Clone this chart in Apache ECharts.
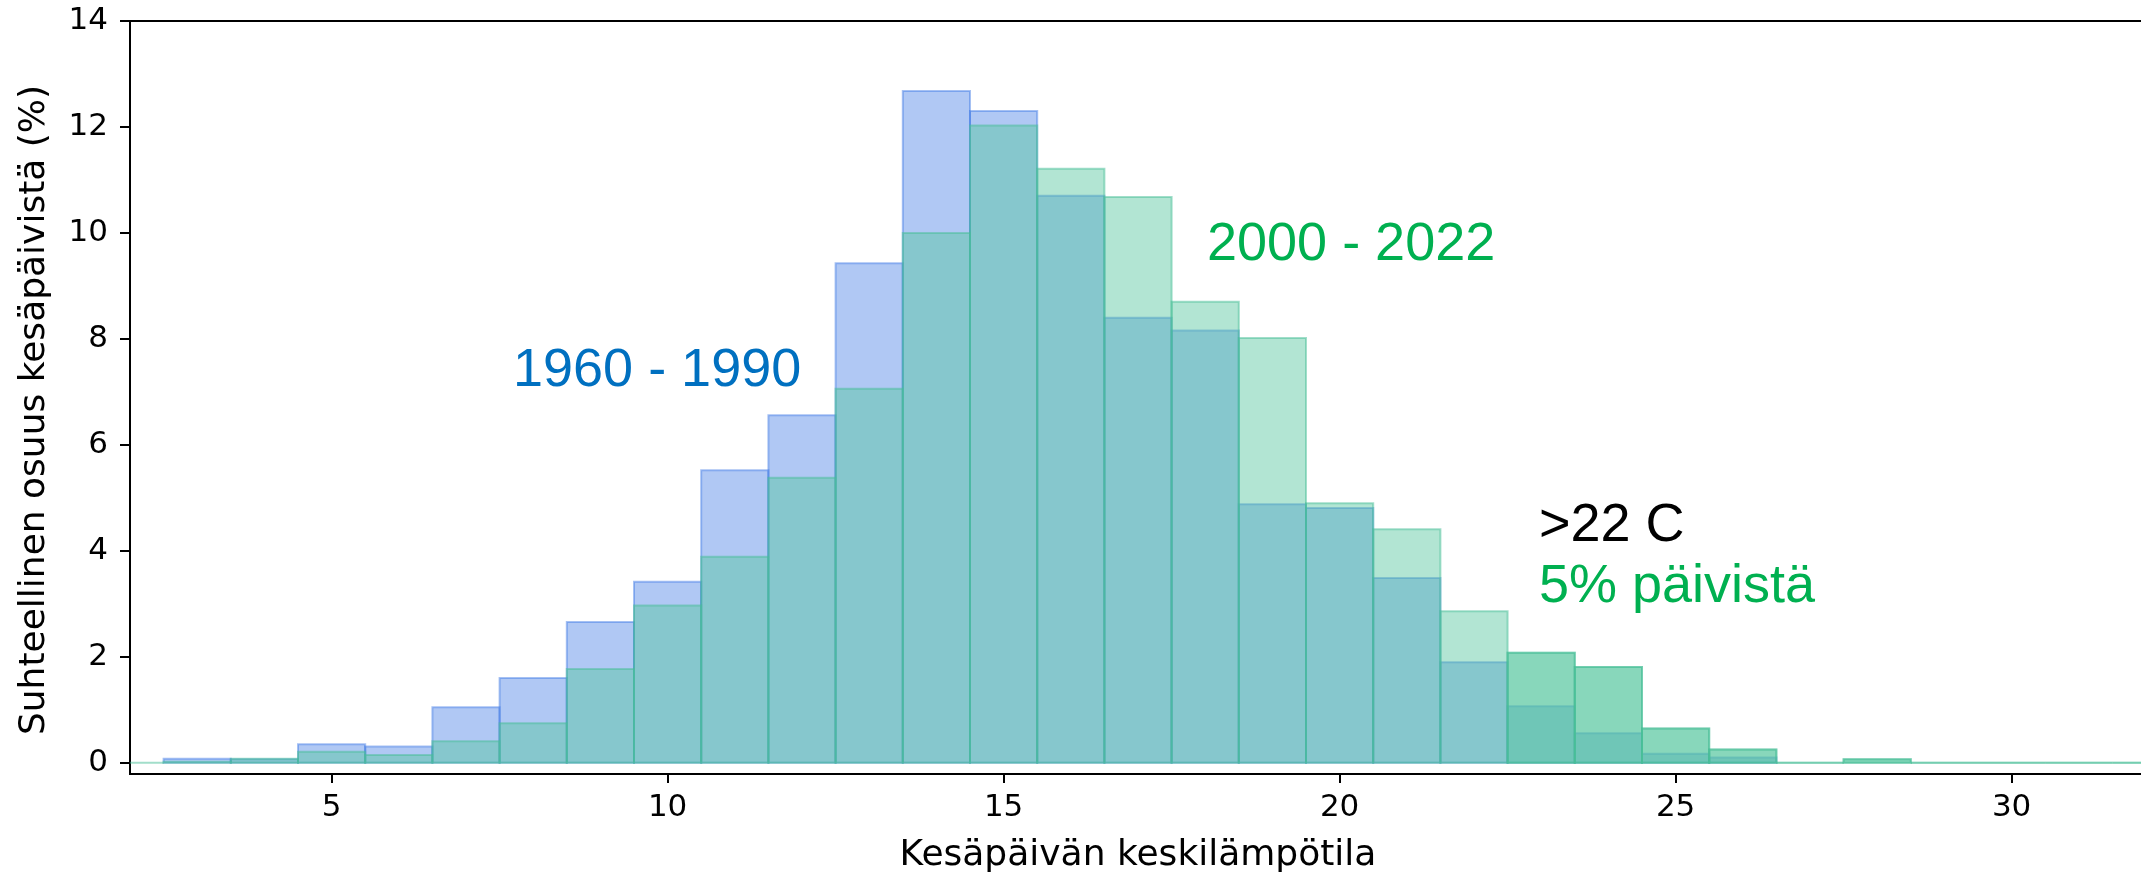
<!DOCTYPE html>
<html><head><meta charset="utf-8">
<script src="https://cdn.jsdelivr.net/npm/echarts@6/dist/echarts.min.js"></script>
<style>html,body{margin:0;padding:0;background:#fff}#c{width:2141px;height:872px}</style>
</head><body><div id="c"></div>
<script>
// Histogram bins: centre of each 1-degree bin (bin = centre-0.5 .. centre+0.5)
const binCenters = [2,3,4,5,6,7,8,9,10,11,12,13,14,15,16,17,18,19,20,21,22,23,24,25,26,27,28,29,30,31,32];
// Share of summer days (%) 1960 - 1990
const share1960_1990 = [null,0.08,0.07,0.35,0.31,1.05,1.60,2.66,3.42,5.52,6.56,9.43,12.68,12.30,10.70,8.40,8.16,4.88,4.81,3.49,1.90,1.07,0.56,0.17,0.10,null,null,null,null,null,null];
// Share of summer days (%) 2000 - 2022
const share2000_2022 = [0,0.02,0.08,0.21,0.15,0.41,0.75,1.77,2.97,3.89,5.38,7.06,10.00,12.03,11.21,10.68,8.70,8.02,4.90,4.41,2.86,2.08,1.81,0.65,0.25,0,0.07,0,0,0,0];
// bins above 22 C highlighted
const highlightFrom = 23;
const xTicks = [5,10,15,20,25,30];
const yTicks = [0,2,4,6,8,10,12,14];
const xTitle = 'Kesäpäivän keskilämpötila';
const yTitle = 'Suhteellinen osuus kesäpäivistä (%)';

function items(values){
  return binCenters.map((c,i)=>[c, values[i]]).filter(d=>d[1]!==null);
}
const highlightValues = share2000_2022.map((v,i)=> binCenters[i] >= highlightFrom ? v : null);

function makeRender(fill, stroke){
  return function(params, api){
    const c = api.value(0), v = api.value(1);
    const p1 = api.coord([c-0.5, v]);
    const p2 = api.coord([c+0.5, 0]);
    const cs = params.coordSys;
    const x1 = Math.max(p1[0], cs.x), x2 = Math.min(p2[0], cs.x + cs.width);
    if (x2 <= x1) return;
    return {type:'rect', shape:{x:x1, y:p1[1], width:x2-x1, height:p2[1]-p1[1]},
            style:{fill:fill, stroke:stroke, lineWidth:2}};
  };
}

const FONT = '"DejaVu Sans", sans-serif';
const ANN = '54px "Liberation Sans", Arial, sans-serif';
const BLUE_FILL = 'rgba(58,118,228,0.4)', BLUE_EDGE = 'rgba(58,118,228,0.45)';
const GREEN_FILL = 'rgba(84,197,157,0.45)', GREEN_EDGE = 'rgba(70,190,150,0.5)';
const chart = echarts.init(document.getElementById('c'), null, {renderer:'canvas'});
chart.setOption({
  animation:false,
  backgroundColor:'#ffffff',
  grid:{left:130, right:-5, top:21, bottom:98, containLabel:false, outerBoundsMode:'none',
        show:true, borderColor:'#000', borderWidth:2, backgroundColor:'transparent'},
  xAxis:{
    type:'value', min:2, max:32,
    axisLine:{onZero:false, lineStyle:{color:'#000', width:2}},
    axisTick:{customValues:xTicks, length:9, lineStyle:{color:'#000', width:2}},
    axisLabel:{customValues:xTicks, fontSize:31, fontFamily:FONT, color:'#000', margin:18},
    splitLine:{show:false},
    name:xTitle, nameLocation:'middle', nameGap:64,
    nameTextStyle:{fontSize:36, fontFamily:FONT, color:'#000'}
  },
  yAxis:{
    type:'value', min:-0.21, max:14,
    axisLine:{onZero:false, lineStyle:{color:'#000', width:2}},
    axisTick:{customValues:yTicks, length:10, lineStyle:{color:'#000', width:2}},
    axisLabel:{customValues:yTicks, fontSize:31, fontFamily:FONT, color:'#000', margin:22},
    splitLine:{show:false},
    name:yTitle, nameLocation:'middle', nameGap:77, nameRotate:90,
    nameTextStyle:{fontSize:36, fontFamily:FONT, color:'#000', padding:[0,25,0,0]}
  },
  series:[
    {type:'custom', name:'1960 - 1990', renderItem:makeRender(BLUE_FILL, BLUE_EDGE), data:items(share1960_1990), z:2},
    {type:'custom', name:'2000 - 2022', renderItem:makeRender(GREEN_FILL, GREEN_EDGE), data:items(share2000_2022), z:3},
    {type:'custom', name:'>22 C', renderItem:makeRender(GREEN_FILL, GREEN_EDGE), data:items(highlightValues), z:4}
  ],
  graphic:[
    {type:'text', x:513, y:371, z:10, style:{text:'1960 - 1990', fill:'#0070C0', font:ANN, align:'left', verticalAlign:'middle'}},
    {type:'text', x:1207, y:245, z:10, style:{text:'2000 - 2022', fill:'#00B050', font:ANN, align:'left', verticalAlign:'middle'}},
    {type:'text', x:1539, y:526, z:10, style:{text:'>22 C', fill:'#000000', font:ANN, align:'left', verticalAlign:'middle'}},
    {type:'text', x:1539, y:587, z:10, style:{text:'5% päivistä', fill:'#00B050', font:ANN, align:'left', verticalAlign:'middle'}}
  ]
});
</script></body></html>
